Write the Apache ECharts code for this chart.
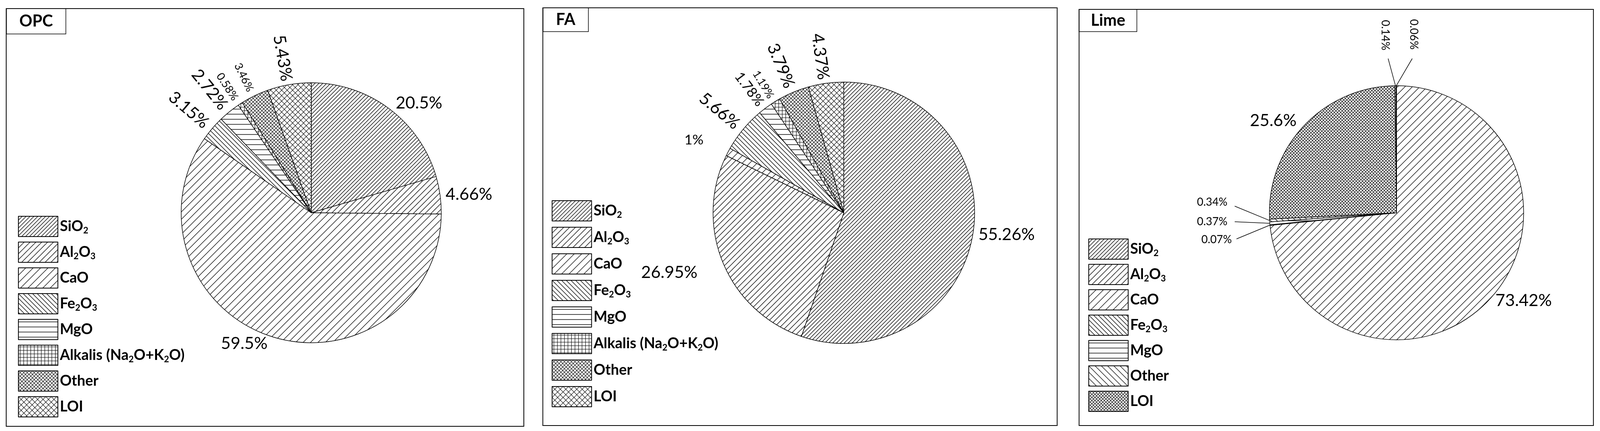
<!DOCTYPE html>
<html lang="en">
<head>
<meta charset="UTF-8">
<title>Oxide composition</title>
<style>
  * { margin: 0; padding: 0; }
  html, body { width: 100%; height: 100%; overflow: hidden; background: #fff; }
  #chart { width: 100%; height: 100%; }
</style>
</head>
<body>
<div id="chart"></div>
<script src="https://cdn.jsdelivr.net/npm/echarts@6/dist/echarts.min.js"></script>
<script>
// data
const opcNames = ['SiO2', 'Al2O3', 'CaO', 'Fe2O3', 'MgO', 'Alkalis (Na2O+K2O)', 'Other', 'LOI'];
const opcValues = [20.5, 4.66, 59.5, 3.15, 2.72, 0.58, 3.46, 5.43];

const faNames = ['SiO2', 'Al2O3', 'CaO', 'Fe2O3', 'MgO', 'Alkalis (Na2O+K2O)', 'Other', 'LOI'];
const faValues = [55.26, 26.95, 1, 5.66, 1.78, 1.19, 3.79, 4.37];

// lime slices in drawing order (clockwise from top)
const limeNames = ['CaO', 'Fe2O3', 'MgO', 'Other', 'LOI', 'SiO2', 'Al2O3'];
const limeValues = [73.42, 0.07, 0.37, 0.34, 25.6, 0.14, 0.06];
const limeLegend = ['SiO2', 'Al2O3', 'CaO', 'Fe2O3', 'MgO', 'Other', 'LOI'];

const dom = document.getElementById('chart');
// layout was measured on a 4380x1104 page; scale to whatever the window is
const SX = dom.clientWidth / 4380, SY = dom.clientHeight / 1104, SM = Math.min(SX, SY);
const X = v => v * SX, Y = v => v * SY, F = v => v * SM;

// lime uses its own patterns, so keep its legend names apart from the others
const LK = '\u200b';
const lk = n => n + LK;

// hatch patterns
function hatch(kind, s, lw) {
  const c = document.createElement('canvas');
  c.width = s; c.height = s;
  const g = c.getContext('2d');
  g.fillStyle = '#fff'; g.fillRect(0, 0, s, s);
  g.strokeStyle = '#000'; g.lineWidth = lw || 1.6;
  const fwd = () => { g.beginPath(); g.moveTo(-s, 2 * s); g.lineTo(2 * s, -s); g.moveTo(-s, s); g.lineTo(s, -s); g.moveTo(0, 2 * s); g.lineTo(2 * s, 0); g.stroke(); };
  const back = () => { g.beginPath(); g.moveTo(-s, -s); g.lineTo(2 * s, 2 * s); g.moveTo(-s, 0); g.lineTo(s, 2 * s); g.moveTo(0, -s); g.lineTo(2 * s, s); g.stroke(); };
  if (kind === '/') fwd();
  if (kind === '\\') back();
  if (kind === 'x') { fwd(); back(); }
  if (kind === '-') { g.beginPath(); g.moveTo(0, s / 2); g.lineTo(s, s / 2); g.stroke(); }
  if (kind === '+') { g.beginPath(); g.moveTo(0, s / 2); g.lineTo(s, s / 2); g.moveTo(s / 2, 0); g.lineTo(s / 2, s); g.stroke(); }
  return { image: c, repeat: 'repeat' };
}

const pat = {
  'SiO2': hatch('/', 10, 1.4),
  'Al2O3': hatch('/', 15, 1.4),
  'CaO': hatch('/', 19, 1.3),
  'Fe2O3': hatch('\\', 12, 1.4),
  'MgO': hatch('-', 13, 1.5),
  'Alkalis (Na2O+K2O)': hatch('+', 9, 1.2),
  'Other': hatch('x', 9, 1.2),
  'LOI': hatch('x', 14, 1.2)
};
const limePat = Object.assign({}, pat, { 'Other': hatch('\\', 16, 1.3), 'LOI': hatch('x', 8, 1.2) });

const FONT = 'Lato';

function legendFmt(name) {
  const parts = name.replace(LK, '').split(/(\d)/);
  return parts.map((p, i) => i % 2 ? '{s|' + p + '}' : (p ? '{b|' + p + '}' : '')).join('');
}

function legend(left, top, names, gap) {
  return {
    left: X(left), top: Y(top), orient: 'vertical',
    data: names, icon: 'rect', itemWidth: X(108), itemHeight: Y(52), itemGap: Y(gap),
    itemStyle: { borderColor: '#000', borderWidth: 2 },
    formatter: legendFmt,
    textStyle: {
      rich: {
        b: { fontFamily: FONT, fontWeight: 'bold', fontSize: F(40), color: '#000' },
        s: { fontFamily: FONT, fontWeight: 'bold', fontSize: F(24), color: '#000', padding: [F(24), 0, 0, 0] }
      }
    }
  };
}

// per-slice label looks: [fontSize, rotate radial?, distance, leader line?]
function items(names, values, p, looks, key) {
  key = key || (n => n);
  return names.map((n, i) => {
    const l = looks[i];
    return {
      name: key(n), value: values[i],
      itemStyle: { color: p[n] },
      label: { fontSize: F(l[0]), rotate: l[1] ? 'radial' : 0 },
      labelLine: { show: !!l[3], length: F(l[2]), length2: 0 }
    };
  });
}

function pie(cx, r, data) {
  return {
    type: 'pie', center: [X(cx), Y(545)], radius: F(r), startAngle: 90, clockwise: true,
    avoidLabelOverlap: false, animation: false,
    itemStyle: { borderColor: '#000', borderWidth: 1.5 },
    label: { position: 'outside', fontFamily: FONT, color: '#000', formatter: p => p.value + '%' },
    labelLine: { lineStyle: { color: '#000', width: 1.5 } },
    emphasis: { disabled: true },
    data: data
  };
}

const chart = echarts.init(dom);

const titleStyle = { fontFamily: FONT, fontWeight: 'bold', fontSize: F(44), color: '#000' };

// lime small slices: labels pulled aside with leader lines
const limeSpots = {
  1: [3372, 614, 'right', 0], 2: [3360, 568, 'right', 0], 3: [3360, 518, 'right', 0],
  5: [3792, 90, 'center', -90], 6: [3870, 88, 'center', -90]
};
const limeEnds = {
  1: [3385, 612], 2: [3380, 568], 3: [3380, 528], 5: [3800, 150], 6: [3866, 150]
};

chart.setOption({
  backgroundColor: '#fff',
  title: [
    { text: 'OPC', left: X(17), top: Y(22), padding: [Y(12), X(36), Y(12), X(36)], borderColor: '#000', borderWidth: 1.5, textStyle: titleStyle },
    { text: 'FA', left: X(1486), top: Y(20), padding: [Y(10), X(36), Y(10), X(36)], borderColor: '#000', borderWidth: 1.5, textStyle: titleStyle },
    { text: 'Lime', left: X(2954), top: Y(24), padding: [Y(8), X(32), Y(8), X(32)], borderColor: '#000', borderWidth: 1.5, textStyle: titleStyle }
  ],
  graphic: [
    { type: 'rect', shape: { x: X(17), y: Y(22), width: X(1417), height: Y(1070) }, style: { fill: 'none', stroke: '#000', lineWidth: 2 } },
    { type: 'rect', shape: { x: X(1486), y: Y(20), width: X(1408), height: Y(1070) }, style: { fill: 'none', stroke: '#000', lineWidth: 2 } },
    { type: 'rect', shape: { x: X(2954), y: Y(24), width: X(1408), height: Y(1066) }, style: { fill: 'none', stroke: '#000', lineWidth: 2 } }
  ],
  legend: [
    legend(44, 548, opcNames, 12),
    legend(1505, 508, faNames, 14),
    legend(2974, 606, limeLegend.map(lk), 11)
  ],
  series: [
    pie(852, 356, items(opcNames, opcValues, pat, [
      [46, 0, 20], [46, 0, 10], [46, 0, 20], [46, 1, 14], [46, 1, 14], [30, 1, 14], [30, 1, 14], [46, 1, 10]
    ])),
    pie(2310, 358, items(faNames, faValues, pat, [
      [46, 0, 10], [46, 0, 70], [38, 0, 70], [46, 1, 14], [38, 1, 12], [30, 1, 12], [46, 1, 14], [46, 1, 10]
    ])),
    Object.assign(pie(3823, 348, items(limeNames, limeValues, limePat, [
      [46, 0, 10], [30, 0, 0, 1], [30, 0, 0, 1], [30, 0, 0, 1], [46, 0, 20], [30, 0, 0, 1], [30, 0, 0, 1]
    ], lk)), {
      labelLayout: function (p) {
        const s = limeSpots[p.dataIndex];
        if (!s) return {};
        const e = limeEnds[p.dataIndex];
        const pts = p.labelLinePoints;
        return {
          x: X(s[0]), y: Y(s[1]), align: s[2], verticalAlign: 'middle', rotate: s[3],
          hideOverlap: false, moveOverlap: false,
          labelLinePoints: pts ? [pts[0], [X(e[0]), Y(e[1])], [X(e[0]), Y(e[1])]] : undefined
        };
      }
    })
  ]
});
</script>
</body>
</html>
